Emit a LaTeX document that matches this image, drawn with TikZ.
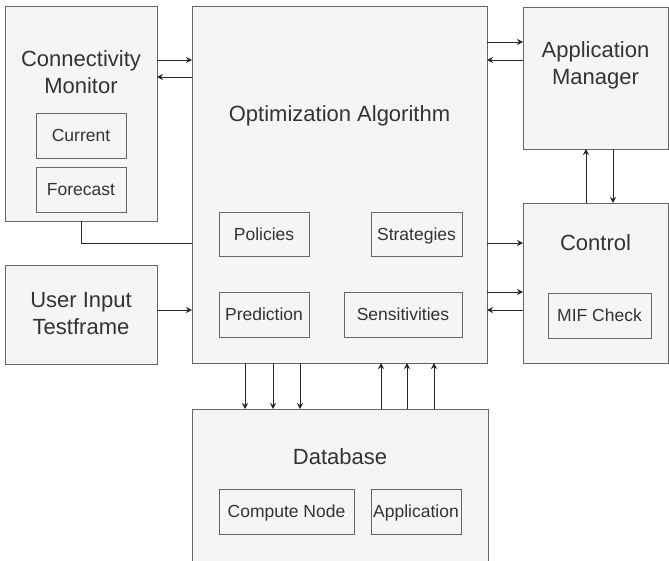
\documentclass[tikz,border=0pt]{standalone}
\usepackage{fontspec}
\setmainfont{Liberation Sans}
\usetikzlibrary{arrows.meta}
\definecolor{boxfill}{HTML}{F5F5F5}
\definecolor{boxline}{HTML}{666666}
\definecolor{txt}{HTML}{333333}
\tikzset{
  blk/.style={draw=boxline, fill=boxfill, line width=1pt, anchor=north west, inner sep=0pt, outer sep=0pt},
  sub/.style={blk, font=\fontsize{17.5}{20}\selectfont, text=txt, text height=12.5pt, text depth=0pt},
  big/.style={font=\fontsize{22}{27}\selectfont, text=txt, align=center, inner sep=0pt},
  arr/.style={-{Stealth[length=6pt,width=6pt]}, line width=0.9pt, draw=black!85},
  plain/.style={line width=0.9pt, draw=black!85},
}
\begin{document}
\begin{tikzpicture}[x=1pt,y=-1pt]
\useasboundingbox (0,0) rectangle (669,560);
% main boxes
\node[blk, minimum width=152pt, minimum height=215pt] (cm) at (5,6) {};
\node[blk, minimum width=152pt, minimum height=99pt] (ui) at (5,265) {};
\node[blk, minimum width=295pt, minimum height=357pt] (oa) at (192,6) {};
\node[blk, minimum width=145pt, minimum height=142pt] (am) at (523,7) {};
\node[blk, minimum width=145pt, minimum height=160pt] (ctl) at (523,203) {};
\node[blk, minimum width=296pt, minimum height=165pt] (db) at (192,409) {};
% titles
\node[big] (cmt) at (81,72) {Connectivity\\Monitor};
\node[big] (uit) at (81,314) {User Input\\Testframe};
\node[big] (oat) at (339.5,116) {Optimization Algorithm};
\node[big] (amt) at (595.5,65) {Application\\Manager};
\node[big] (ctlt) at (595.5,243) {Control};
\node[big] (dbt) at (340,457) {Database};
% sub boxes
\node[sub, minimum width=90pt, minimum height=45pt] (cur) at (36,113) {Current};
\node[sub, minimum width=90pt, minimum height=45pt] (fc) at (36,167) {Forecast};
\node[sub, minimum width=90pt, minimum height=44pt] (pol) at (219,212) {Policies};
\node[sub, minimum width=90pt, minimum height=45pt] (pred) at (219,292) {Prediction};
\node[sub, minimum width=91pt, minimum height=44pt] (str) at (371,212) {Strategies};
\node[sub, minimum width=118pt, minimum height=45pt] (sens) at (344,292) {Sensitivities};
\node[sub, minimum width=103pt, minimum height=45pt] (mif) at (548,293) {MIF Check};
\node[sub, minimum width=135pt, minimum height=45pt] (cn) at (219,489) {Compute Node};
\node[sub, minimum width=90pt, minimum height=45pt] (app) at (371,489) {Application};
% connectors
\draw[arr] (cm.east |- 0,60) -- (oa.west |- 0,60);
\draw[arr] (oa.west |- 0,77) -- (cm.east |- 0,77);
\draw[arr] (oa.east |- 0,42) -- (am.west |- 0,42);
\draw[arr] (am.west |- 0,60) -- (oa.east |- 0,60);
\draw[plain] (cm.south) |- (oa.west |- 0,243);
\draw[arr] (ui.east |- 0,310) -- (oa.west |- 0,310);
\draw[arr] (oa.east |- 0,243) -- (ctl.west |- 0,243);
\draw[arr] (oa.east |- 0,292) -- (ctl.west |- 0,292);
\draw[arr] (ctl.west |- 0,310) -- (oa.east |- 0,310);
\draw[arr] (ctl.north -| 586,0) -- (am.south -| 586,0);
\draw[arr] (am.south -| 613,0) -- (ctl.north -| 613,0);
\draw[arr] (oa.south -| 245,0) -- (db.north -| 245,0);
\draw[arr] (oa.south -| 273,0) -- (db.north -| 273,0);
\draw[arr] (oa.south -| 300,0) -- (db.north -| 300,0);
\draw[arr] (db.north -| 381,0) -- (oa.south -| 381,0);
\draw[arr] (db.north -| 407,0) -- (oa.south -| 407,0);
\draw[arr] (db.north -| 434,0) -- (oa.south -| 434,0);
\end{tikzpicture}
\end{document}
